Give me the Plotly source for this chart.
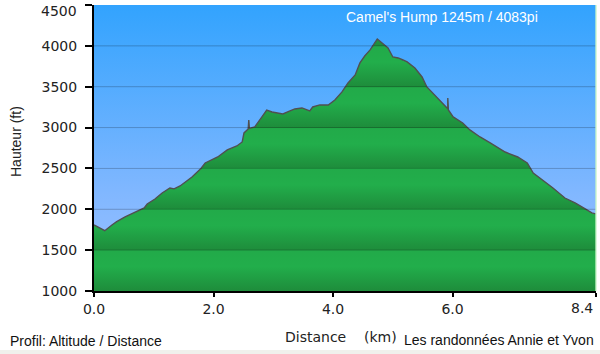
import plotly.graph_objects as go

# ---- data ----
distance_km = [0.00, 0.18, 0.30, 0.38, 0.52, 0.69, 0.84, 0.89, 1.02, 1.14, 1.27, 1.34, 1.44, 1.64,
               1.79, 1.86, 2.07, 2.23, 2.39, 2.48, 2.51, 2.58, 2.59, 2.60, 2.64, 2.69, 2.81, 2.89,
               2.98, 3.08, 3.16, 3.28, 3.36, 3.48, 3.61, 3.66, 3.78, 3.92, 4.03, 4.15, 4.25, 4.37,
               4.45, 4.53, 4.62, 4.74, 4.82, 4.92, 5.00, 5.09, 5.17, 5.24, 5.37, 5.49, 5.57, 5.67,
               5.82, 5.92, 5.92, 5.93, 6.01, 6.17, 6.29, 6.46, 6.63, 6.79, 6.88, 7.09, 7.25, 7.35,
               7.55, 7.68, 7.88, 8.05, 8.22, 8.33, 8.40]
altitude_ft = [1808, 1738, 1808, 1848, 1906, 1967, 2016, 2065, 2126, 2200, 2261, 2250, 2285, 2395,
               2500, 2567, 2640, 2726, 2775, 2824, 2934, 2983, 3093, 2990, 2995, 3007, 3130, 3215,
               3191, 3179, 3166, 3203, 3228, 3240, 3203, 3252, 3277, 3277, 3338, 3436, 3546, 3644,
               3791, 3876, 3950, 4083, 4036, 3974, 3864, 3852, 3827, 3803, 3729, 3619, 3497, 3424,
               3313, 3230, 3362, 3215, 3130, 3056, 2971, 2885, 2812, 2738, 2701, 2640, 2567, 2444,
               2334, 2261, 2138, 2077, 2004, 1955, 1943]

x_tickvals = [0, 2, 4, 6, 8.4]
x_ticktext = ["0.0", "2.0", "4.0", "6.0", ""]      # "8.4" drawn as annotation (shifted left)
y_tickvals = [1000, 1500, 2000, 2500, 3000, 3500, 4000, 4500]
y_ticktext = ["1000", "1500", "2000", "2500", "3000", "3500", "4000", ""]  # "4500" as annotation

X_RANGE = [0, 8.4]
Y_RANGE = [1000, 4500]

title_text = "Camel's Hump 1245m / 4083pi"

# ---- layout geometry (pixels) ----
W, H = 600, 354
ML, MR, MT, MB = 94, 4, 5, 63
PW, PH = W - ML - MR, H - MT - MB


def px_x(p):
    return (p - ML) / PW


def px_y(p):
    return (H - MB - p) / PH


# banded green gradient (each 500 ft band darker at its bottom, bright near its top)
nb = int((Y_RANGE[1] - Y_RANGE[0]) / 500)
green_scale = []
for i in range(nb):
    a = i / nb
    b = (i + 1) / nb
    green_scale.append([a, "rgb(30,140,59)"])
    green_scale.append([a + (b - a) * 0.6, "rgb(34,174,75)"])
    green_scale.append([b, "rgb(34,170,73)"])

fig = go.Figure()

# sky background
fig.add_trace(go.Scatter(
    x=X_RANGE, y=[Y_RANGE[1], Y_RANGE[1]], mode="none", fill="tozeroy",
    fillgradient=dict(type="vertical", start=Y_RANGE[0], stop=Y_RANGE[1],
                      colorscale=[[0, "rgb(160,194,255)"], [0.35, "rgb(128,183,255)"],
                                  [1, "rgb(50,163,254)"]]),
    hoverinfo="skip", showlegend=False))

# elevation profile
fig.add_trace(go.Scatter(
    x=distance_km, y=altitude_ft, mode="lines", fill="tozeroy",
    line=dict(color="#505050", width=1.4),
    fillgradient=dict(type="vertical", start=Y_RANGE[0], stop=Y_RANGE[1],
                      colorscale=green_scale),
    showlegend=False))

shapes = []
for v in y_tickvals[1:-1]:
    shapes.append(dict(type="line", xref="paper", yref="y", x0=0, x1=1, y0=v, y1=v,
                       line=dict(color="rgba(0,0,0,0.22)", width=1), layer="above"))
# light right border
shapes.append(dict(type="line", xref="paper", yref="paper", x0=1, x1=1, y0=0, y1=1,
                   line=dict(color="rgba(200,245,200,0.9)", width=1.5), layer="above"))
# bottom light strip
shapes.append(dict(type="rect", xref="paper", yref="paper", x0=px_x(0), x1=px_x(600),
                   y0=px_y(354), y1=px_y(350), fillcolor="#f0f0ec", line=dict(width=0)))

arial = "Liberation Sans, Arial, sans-serif"
dejavu = "DejaVu Sans, Verdana, sans-serif"
tickfont = dict(family=dejavu, size=14, color="#222")

annotations = [
    dict(text=title_text, x=px_x(442), y=px_y(17), xref="paper", yref="paper",
         showarrow=False, font=dict(family=arial, size=14, color="white"),
         xanchor="center", yanchor="middle"),
    dict(text="Hauteur (ft)", x=px_x(16), y=px_y(142), xref="paper", yref="paper",
         showarrow=False, textangle=-90, font=dict(family=arial, size=14, color="#222"),
         xanchor="center", yanchor="middle"),
    dict(text="Distance", x=px_x(283), y=px_y(337), xref="paper", yref="paper",
         showarrow=False, font=dict(family=dejavu, size=14, color="#222"),
         xanchor="left", yanchor="middle"),
    dict(text="(km)", x=px_x(362), y=px_y(337), xref="paper", yref="paper",
         showarrow=False, font=dict(family=dejavu, size=14, color="#222"),
         xanchor="left", yanchor="middle"),
    dict(text="Les randonnées Annie et Yvon", x=px_x(402), y=px_y(340), xref="paper",
         yref="paper", showarrow=False, font=dict(family=arial, size=14, color="#111"),
         xanchor="left", yanchor="middle"),
    dict(text="Profil: Altitude / Distance", x=px_x(8), y=px_y(341), xref="paper",
         yref="paper", showarrow=False, font=dict(family=arial, size=14, color="#111"),
         xanchor="left", yanchor="middle"),
    # edge tick labels, nudged inside the page as in the reference
    dict(text="8.4", x=px_x(595), y=px_y(308), xref="paper", yref="paper",
         showarrow=False, font=tickfont, xanchor="right", yanchor="middle"),
    dict(text="4500", x=px_x(79), y=px_y(11), xref="paper", yref="paper",
         showarrow=False, font=tickfont, xanchor="right", yanchor="middle"),
]

fig.update_layout(
    width=W, height=H,
    margin=dict(l=ML, r=MR, t=MT, b=MB, pad=0),
    paper_bgcolor="white", plot_bgcolor="white",
    shapes=shapes, annotations=annotations,
    xaxis=dict(range=X_RANGE, tickvals=x_tickvals, ticktext=x_ticktext,
               showgrid=False, zeroline=False, showline=True, linecolor="black",
               linewidth=2, ticks="outside", ticklen=4, tickwidth=2, tickcolor="black",
               tickfont=tickfont),
    yaxis=dict(range=Y_RANGE, tickvals=y_tickvals, ticktext=y_ticktext,
               showgrid=False, zeroline=False,
               showline=True, linecolor="black", linewidth=2, ticks="outside",
               ticklen=7, tickwidth=2, tickcolor="black", ticklabelstandoff=5,
               tickfont=tickfont),
)

fig.write_html("out.html")
